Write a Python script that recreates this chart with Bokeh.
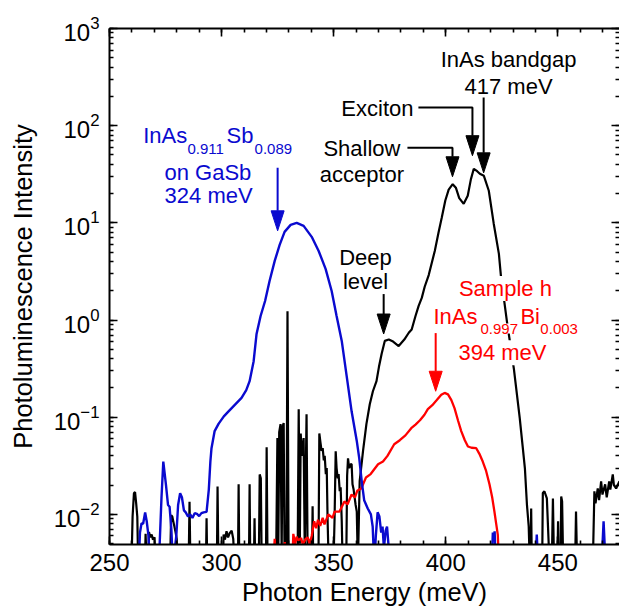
import numpy as np
from bokeh.plotting import figure
from bokeh.models import (Range1d, LinearAxis, LogAxis, Label, SingleIntervalTicker, LogTicker,
                          CustomJSTickFormatter)
from bokeh.embed import file_html
from bokeh.resources import INLINE

# ---------------- data ----------------
black_x = [259.8, 260.3, 260.9, 261.4, 261.9, 262.4, 262.8, 265.8, 266.1, 266.6, 267.3, 267.6, 268.2, 268.8,
           269.4, 270.1, 270.5, 277.0, 277.5, 278.0, 278.8, 279.5, 280.0, 280.3, 285.3, 285.7, 286.1, 293.0,
           293.3, 293.6, 297.9, 298.2, 298.6, 300.6, 300.9, 301.5, 302.2, 302.9, 303.6, 304.5, 305.2, 305.8,
           307.3, 307.6, 307.9, 312.2, 312.5, 312.8, 314.4, 314.7, 315.0, 316.6, 317.0, 317.5, 317.9, 319.8,
           320.1, 320.5, 324.3, 324.9, 325.3, 325.7, 326.3, 326.8, 327.2, 327.7, 328.1, 328.9, 329.4, 329.9,
           333.9, 334.4, 334.9, 335.3, 335.8, 336.6, 337.1, 337.9, 338.4, 340.3, 340.6, 340.9, 343.2, 343.6,
           344.1, 344.6, 345.1, 345.6, 346.0, 346.5, 346.9, 347.3, 347.8, 349.9, 350.4, 350.9, 351.3, 351.8,
           352.2, 352.7, 353.1, 353.6, 354.0, 355.6, 356.0, 356.4, 356.9, 357.6, 358.0, 358.4, 358.9, 359.4,
           359.8, 360.3, 360.8, 361.6, 363.1, 364.6, 366.1, 367.5, 369.1, 370.2, 371.4, 372.8, 374.6, 376.5,
           379.0, 381.5, 383.5, 384.8, 386.5, 387.9, 389.3, 390.6, 392.4, 395.1, 396.8, 398.2, 399.8, 401.3,
           403.1, 404.5, 406.0, 408.0, 409.8, 411.2, 412.5, 414.0, 415.2, 417.0, 419.2, 421.4, 423.7, 424.6,
           427.2, 430.4, 433.0, 434.3, 435.3, 436.2, 437.0, 437.5, 437.8, 438.1, 438.4, 443.0, 443.3, 444.0,
           445.1, 446.3, 447.3, 447.8, 448.3, 449.8, 450.1, 450.4, 451.2, 451.5, 451.9, 452.4, 457.7, 458.1,
           458.6, 465.6, 466.3, 466.8, 467.8, 468.4, 469.3, 469.9, 471.1, 471.8, 472.9, 473.4, 474.5, 475.0,
           476.0, 477.5]
black_y = [0.003, 0.0095, 0.0165, 0.017, 0.013, 0.0095, 0.003, 0.003, 0.0063, 0.003, 0.003, 0.0066, 0.0058, 0.0062,
           0.0055, 0.0058, 0.003, 0.003, 0.0098, 0.0095, 0.0078, 0.0065, 0.0056, 0.003, 0.003, 0.0135, 0.003, 0.003,
           0.0091, 0.003, 0.003, 0.0194, 0.003, 0.003, 0.0062, 0.0055, 0.0067, 0.0058, 0.0064, 0.0068, 0.0056, 0.003,
           0.003, 0.0204, 0.003, 0.003, 0.0204, 0.003, 0.003, 0.0091, 0.003, 0.003, 0.0258, 0.0235, 0.003, 0.003,
           0.049, 0.003, 0.003, 0.061, 0.004, 0.070, 0.085, 0.004, 0.080, 0.087, 0.003, 0.003, 1.23, 0.003,
           0.003, 0.121, 0.005, 0.068, 0.040, 0.061, 0.004, 0.107, 0.003, 0.003, 0.0121, 0.003, 0.003, 0.068,
           0.055, 0.045, 0.048, 0.036, 0.040, 0.026, 0.030, 0.0085, 0.003, 0.003, 0.009, 0.0446, 0.030, 0.0235,
           0.026, 0.0173, 0.019, 0.0085, 0.003, 0.003, 0.025, 0.0378, 0.030, 0.0328, 0.033, 0.0204, 0.018, 0.0146,
           0.0125, 0.0107, 0.003, 0.022, 0.045, 0.085, 0.136, 0.185, 0.235, 0.33, 0.45, 0.61, 0.63, 0.60,
           0.54, 0.63, 0.74, 0.80, 1.1, 1.4, 1.69, 2.2, 2.9, 5.14, 8.0, 11.3, 17.0, 22.0,
           25.0, 23.0, 18.0, 15.7, 19.0, 28.0, 36.0, 34.0, 32.0, 30.5, 21.4, 9.8, 4.8, 2.85,
           1.0, 0.313, 0.098, 0.05, 0.0298, 0.0127, 0.0075, 0.003, 0.003, 0.0115, 0.003, 0.003, 0.0166, 0.0173,
           0.0146, 0.003, 0.003, 0.0146, 0.003, 0.003, 0.0085, 0.003, 0.003, 0.0153, 0.0136, 0.003, 0.003, 0.0107,
           0.003, 0.003, 0.0173, 0.013, 0.0185, 0.014, 0.0219, 0.016, 0.0204, 0.015, 0.0219, 0.018, 0.0258, 0.020,
           0.0185, 0.022]

blue_x = [263.0, 263.6, 264.3, 265.0, 265.9, 266.6, 267.4, 268.0, 272.0, 273.2, 274.0, 275.2, 276.1, 276.8,
          277.6, 278.3, 279.8, 280.6, 281.5, 282.3, 283.2, 284.0, 285.0, 286.0, 287.0, 288.0, 289.0, 290.0,
          291.0, 292.0, 293.3, 294.3, 295.0, 295.5, 296.9, 298.7, 301.0, 303.1, 306.0, 308.9, 311.0, 312.5,
          314.3, 315.6, 317.4, 319.4, 321.4, 323.7, 325.9, 328.1, 330.8, 333.5, 336.6, 340.2, 343.3, 346.4,
          349.1, 351.3, 353.6, 355.8, 358.0, 360.3, 361.4, 362.5, 363.6, 365.2, 366.6, 367.4, 368.1, 368.8,
          369.6, 370.4, 371.2, 371.8, 372.4, 373.2, 373.8, 374.4, 375.0, 420.5, 421.0, 421.4, 421.8, 422.3,
          440.0, 440.6, 441.2, 469.5, 470.4, 471.3]
blue_y = [0.003, 0.0065, 0.0081, 0.0080, 0.0105, 0.0085, 0.006, 0.003, 0.003, 0.015, 0.035, 0.020, 0.0125, 0.012,
          0.007, 0.003, 0.006, 0.0125, 0.0165, 0.015, 0.011, 0.0105, 0.0095, 0.0100, 0.0092, 0.0103, 0.0101, 0.0096,
          0.0103, 0.0105, 0.0106, 0.018, 0.035, 0.048, 0.072, 0.086, 0.102, 0.115, 0.135, 0.158, 0.19, 0.235,
          0.377, 0.72, 1.1, 1.57, 2.52, 4.06, 5.93, 8.07, 9.53, 10.0, 9.31, 7.18, 5.14, 3.36,
          1.99, 1.1, 0.61, 0.265, 0.115, 0.057, 0.038, 0.022, 0.014, 0.0115, 0.010, 0.0075, 0.003, 0.006,
          0.0105, 0.0095, 0.0065, 0.0075, 0.0045, 0.0068, 0.0075, 0.005, 0.003, 0.003, 0.0065, 0.0055, 0.0067, 0.003,
          0.003, 0.0062, 0.003, 0.003, 0.0085, 0.003]

red_x = [323.0, 323.7, 324.2, 327.8, 328.2, 328.6, 331.5, 332.0, 332.8, 333.5, 334.2, 335.5, 336.2, 337.5,
         338.4, 339.3, 340.2, 341.3, 342.2, 343.0, 344.0, 345.1, 345.9, 347.6, 349.5, 350.4, 352.6, 354.8,
         356.2, 358.0, 359.5, 360.5, 362.3, 364.4, 366.5, 369.8, 372.0, 374.0, 377.0, 379.5, 382.0, 384.6,
         386.5, 388.5, 390.5, 392.0, 394.0, 396.0, 398.0, 399.5, 401.0, 402.5, 403.9, 405.5, 406.9, 408.5,
         409.9, 411.5, 413.6, 415.0, 416.5, 418.0, 419.5, 420.7, 421.7, 422.5, 423.2, 423.8]
red_y = [0.003, 0.0056, 0.003, 0.003, 0.0052, 0.003, 0.003, 0.0063, 0.0050, 0.0059, 0.0054, 0.0057, 0.0049, 0.0056,
         0.0058, 0.0050, 0.0060, 0.0085, 0.0072, 0.0088, 0.0076, 0.0092, 0.0079, 0.0100, 0.0092, 0.0107, 0.0107, 0.0136,
         0.0127, 0.0160, 0.0150, 0.0175, 0.0185, 0.0240, 0.0260, 0.0328, 0.0350, 0.0400, 0.0527, 0.0580, 0.0650, 0.0770,
         0.0840, 0.0930, 0.1060, 0.1210, 0.1330, 0.1500, 0.1700, 0.1780, 0.1720, 0.1500, 0.1240, 0.0920, 0.0720, 0.0580,
         0.0500, 0.0485, 0.0480, 0.0420, 0.0350, 0.0280, 0.0204, 0.0150, 0.0107, 0.0080, 0.0062, 0.003]

x_label = "Photon Energy (meV)"
y_label = "Photoluminescence Intensity"

# annotation anchors (energy in meV, intensity)
blue_arrow = (325.0, 36.9, 8.28)
gap_arrow = (416.9, 194.5, 32.7)
exciton_path = ([387.8, 411.9, 411.9], [153.5, 153.5, 49.1])
shallow_path = ([382.9, 403.0, 403.0], [59.3, 59.3, 29.8])
deep_arrow = (372.3, 1.85, 0.718)
red_arrow = (395.5, 0.734, 0.185)

# ---------------- figure ----------------
X0, X1 = 250.0, 477.5
Y0, Y1 = 0.0049, 1000.0
ML, MR, MT, MB = 109, 0, 28, 68
W, H = 619, 612

BLUE = "#0A0ACF"
RED = "#FF0000"
FONT = "Liberation Sans"

p = figure(width=W, height=H, x_range=Range1d(X0, X1), y_range=Range1d(Y0, Y1),
           y_axis_type="log", output_backend="svg", toolbar_location=None,
           min_border_left=ML, min_border_right=MR, min_border_top=MT, min_border_bottom=MB)
p.grid.visible = False
p.outline_line_color = None
p.background_fill_color = "white"
p.border_fill_color = "white"

p.add_layout(LinearAxis(), "above")
p.add_layout(LogAxis(), "right")

for ax in p.xaxis:
    ax.ticker = SingleIntervalTicker(interval=50, num_minor_ticks=5)
for ax in p.yaxis:
    ax.ticker = LogTicker(num_minor_ticks=10, desired_num_ticks=7)

for ax in p.axis:
    ax.major_tick_in = 8
    ax.major_tick_out = 0
    ax.minor_tick_in = 4
    ax.minor_tick_out = 0
    ax.axis_line_width = 2
    ax.axis_line_color = "black"
    ax.major_tick_line_width = 1.6
    ax.minor_tick_line_width = 1.6
    ax.major_tick_line_color = "black"
    ax.minor_tick_line_color = "black"
    ax.major_label_text_font = FONT
    ax.major_label_text_font_size = "24px"
    ax.major_label_text_color = "black"
    ax.axis_label_text_font = FONT
    ax.axis_label_text_font_size = "25.5px"
    ax.axis_label_text_font_style = "normal"
    ax.axis_label_text_color = "black"

bx = p.below[0]
bx.axis_label = x_label
bx.major_label_standoff = 9
bx.axis_label_standoff = 4

ly = p.left[0]
ly.axis_label = y_label
ly.major_label_standoff = 10
ly.axis_label_standoff = 14

tx = p.above[0]
ry = p.right[0]
for ax in (tx, ry):
    ax.formatter = CustomJSTickFormatter(code="return ''")
    ax.major_label_text_font_size = "2px"
    ax.major_label_standoff = 0
ry.axis_line_color = None

# ---------------- curves ----------------
p.line(black_x, black_y, line_color="black", line_width=2.2)
p.line(red_x, red_y, line_color=RED, line_width=2.3)
p.line(blue_x, blue_y, line_color=BLUE, line_width=2.4)

# ---------------- arrows ----------------
FW = W - ML - MR
FH = H - MT - MB
px_per_x = FW / (X1 - X0)
px_per_dec = FH / (np.log10(Y1) - np.log10(Y0))


def arrow(xs, ys, color, head_len=20, head_w=13):
    xt, yt = xs[-1], ys[-1]
    ybase = yt * 10 ** (head_len / px_per_dec)
    dx = head_w / 2 / px_per_x
    p.line(list(xs[:-1]) + [xt], list(ys[:-1]) + [ybase], line_color=color, line_width=2)
    p.patch([xt - dx, xt + dx, xt], [ybase, ybase, yt], fill_color=color, line_color=color, line_width=1)


arrow([blue_arrow[0], blue_arrow[0]], [blue_arrow[1], blue_arrow[2]], BLUE)
arrow([gap_arrow[0], gap_arrow[0]], [gap_arrow[1], gap_arrow[2]], "black")
arrow(exciton_path[0], exciton_path[1], "black")
arrow(shallow_path[0], shallow_path[1], "black")
arrow([deep_arrow[0], deep_arrow[0]], [deep_arrow[1], deep_arrow[2]], "black")
arrow([red_arrow[0], red_arrow[0]], [red_arrow[1], red_arrow[2]], RED)

# ---------------- texts ----------------
def txt(x, y, s, color, size=22, align="center", bg=False):
    kw = dict(x=x, y=y, text=s, text_color=color, text_font=FONT, text_font_size=f"{size}px",
              text_align=align, text_baseline="middle")
    if bg:
        kw.update(background_fill_color="white", background_fill_alpha=1.0)
    p.add_layout(Label(**kw))


# blue label
txt(265.0, 79.0, "InAs", BLUE, align="left")
txt(284.8, 58.0, "0.911", BLUE, size=15, align="left")
txt(302.2, 79.0, "Sb", BLUE, align="left")
txt(314.7, 58.0, "0.089", BLUE, size=15, align="left")
txt(293.9, 33.0, "on GaSb", BLUE)
txt(294.2, 19.0, "324 meV", BLUE)

# black labels
txt(428.0, 485.0, "InAs bandgap", "black")
txt(428.0, 252.0, "417 meV", "black")
txt(385.6, 151.0, "Exciton", "black", align="right")
txt(362.6, 58.6, "Shallow", "black")
txt(362.6, 31.6, "acceptor", "black")
txt(364.2, 4.45, "Deep", "black")
txt(364.2, 2.52, "level", "black")

# red label
txt(426.6, 2.11, "Sample h", RED, bg=True)
txt(394.5, 1.10, "InAs", RED, align="left", bg=True)
txt(415.5, 0.817, "0.997", RED, size=15, align="left", bg=True)
txt(433.3, 1.10, "Bi", RED, align="left", bg=True)
txt(442.2, 0.817, "0.003", RED, size=15, align="left", bg=True)
txt(425.3, 0.462, "394 meV", RED, bg=True)

open("out.html", "w").write(file_html(p, INLINE))
